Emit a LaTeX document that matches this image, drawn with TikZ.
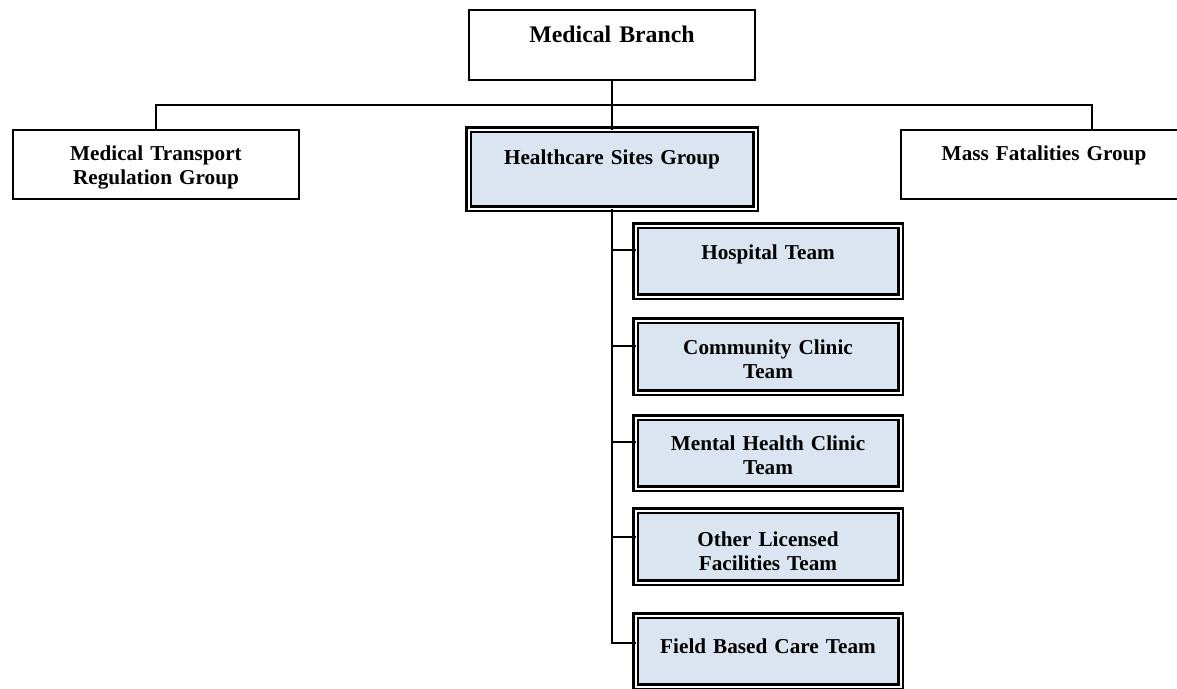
\documentclass[tikz,border=0pt]{standalone}
\usepackage{fontspec}
\setmainfont{Liberation Serif}
\definecolor{boxblue}{HTML}{DBE5F1}
\begin{document}
\begin{tikzpicture}[x=1pt,y=-1pt,
  plainbox/.style={draw, line width=2pt, fill=white, inner sep=0pt, outer sep=0pt},
  dblbox/.style={draw, line width=2.3pt, double=white, double distance=2pt, fill=boxblue, inner sep=0pt, outer sep=0pt},
  lbl/.style={font=\fontsize{21.2}{24.3}\selectfont\bfseries, text width=280pt, align=center, anchor=base, inner sep=0pt},
  biglbl/.style={lbl, font=\fontsize{23.8}{27}\selectfont\bfseries},
  conn/.style={line width=2pt}]
\useasboundingbox (0,0) rectangle (1177,688);
\clip (0,0) rectangle (1177,688);
% top level
\node[plainbox, minimum width=286pt, minimum height=70pt] (mb) at (612,45) {};
\node[biglbl] (mbT) at (612,42) {Medical Branch};
% second level
\node[plainbox, minimum width=286pt, minimum height=69pt] (mtr) at (156,164.5) {};
\node[lbl] (mtrT) at (156,160) {Medical Transport\\Regulation Group};
\node[plainbox, minimum width=286pt, minimum height=69pt] (mf) at (1044,164.5) {};
\node[lbl] (mfT) at (1044,160) {Mass Fatalities Group};
\node[dblbox, minimum width=287pt, minimum height=79pt] (hsg) at (612,169) {};
\node[lbl] (hsgT) at (612,164) {Healthcare Sites Group};
% teams
\node[dblbox, minimum width=265pt, minimum height=71pt] (ht) at (768,261) {};
\node[lbl] (htT) at (768,259) {Hospital Team};
\node[dblbox, minimum width=265pt, minimum height=72pt] (cc) at (768,356.5) {};
\node[lbl] (ccT) at (768,354) {Community Clinic\\Team};
\node[dblbox, minimum width=265pt, minimum height=71pt] (mh) at (768,453) {};
\node[lbl] (mhT) at (768,450) {Mental Health Clinic\\Team};
\node[dblbox, minimum width=265pt, minimum height=72pt] (ol) at (768,546.5) {};
\node[lbl] (olT) at (768,546) {Other Licensed\\Facilities Team};
\node[dblbox, minimum width=265pt, minimum height=71pt] (fb) at (768,651) {};
\node[lbl] (fbT) at (768,653) {Field Based Care Team};
% connectors
\coordinate (busR) at (1092,105);
\draw[conn] (mb.south) -- (hsg.north);
\draw[conn] (mtr.north) |- (busR) -- (busR |- mf.north);
\coordinate (htc) at ([yshift=11pt]ht.west);
\coordinate (ccc) at ([yshift=11pt]cc.west);
\coordinate (mhc) at ([yshift=11pt]mh.west);
\coordinate (olc) at ([yshift=10pt]ol.west);
\coordinate (fbc) at ([yshift=8pt]fb.west);
\draw[conn] (hsg.south) |- (fbc);
\draw[conn] (hsg.south |- htc) -- (htc);
\draw[conn] (hsg.south |- ccc) -- (ccc);
\draw[conn] (hsg.south |- mhc) -- (mhc);
\draw[conn] (hsg.south |- olc) -- (olc);
\end{tikzpicture}
\end{document}
